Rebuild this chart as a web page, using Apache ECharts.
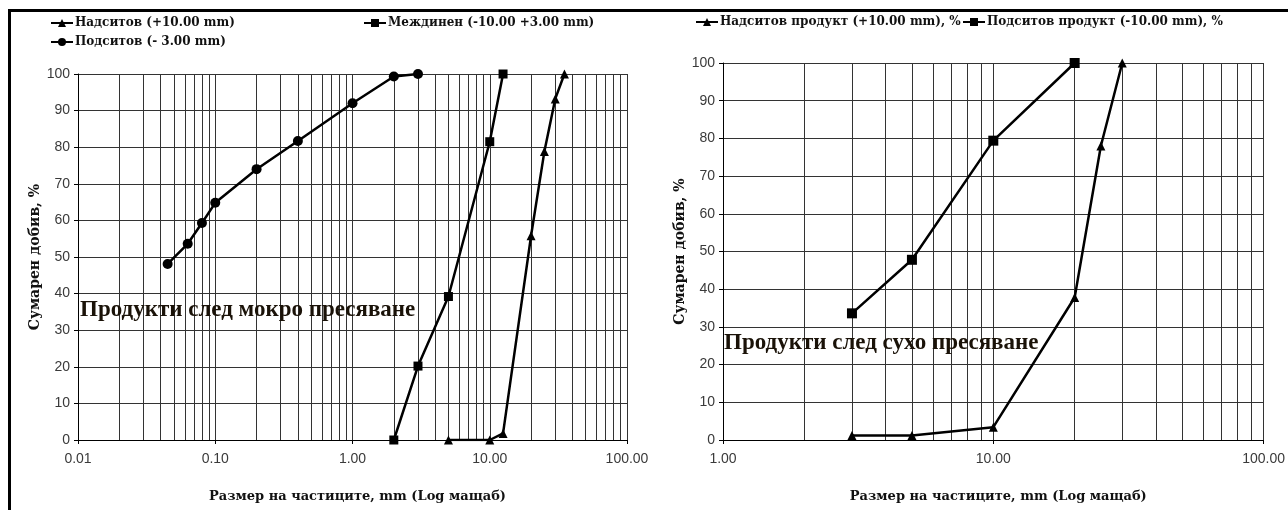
<!DOCTYPE html>
<html>
<head>
<meta charset="utf-8">
<script src="https://cdn.jsdelivr.net/npm/echarts@6/dist/echarts.min.js"></script>
<style>
  html, body { margin: 0; padding: 0; background: #fff; }
  #wrap { position: relative; width: 1288px; height: 510px; }
  #chart { width: 1288px; height: 510px; }
  #frame {
    position: absolute; left: 8px; top: 9px; right: 0; bottom: 0;
    border-left: 3px solid #000; border-top: 3px solid #000;
    pointer-events: none;
  }
</style>
</head>
<body>
<div id="wrap">
  <div id="chart"></div>
  <div id="frame"></div>
</div>
<script>
/* ---------- данни: мокро пресяване ---------- */
const wetOverSize = [5, 10, 12.5, 20, 25, 30, 35];
const wetOver = [0, 0, 1.8, 55.8, 78.8, 93.2, 100];
const wetMidSize = [2, 3, 5, 10, 12.5];
const wetMid = [0, 20.2, 39.2, 81.5, 100];
const wetUnderSize = [0.045, 0.063, 0.08, 0.1, 0.2, 0.4, 1, 2, 3];
const wetUnder = [48.1, 53.6, 59.3, 64.8, 74, 81.7, 92, 99.3, 100];

/* ---------- данни: сухо пресяване ---------- */
const dryOverSize = [3, 5, 10, 20, 25, 30];
const dryOver = [1.2, 1.2, 3.4, 37.8, 78, 100];
const dryUnderSize = [3, 5, 10, 20];
const dryUnder = [33.6, 47.8, 79.4, 100];

/* ---------- междинни линии на логаритмичната скала ---------- */
const wetMinor = [0.02, 0.03, 0.04, 0.05, 0.06, 0.07, 0.08, 0.09,
  0.2, 0.3, 0.4, 0.5, 0.6, 0.7, 0.8, 0.9,
  2, 3, 4, 5, 6, 7, 8, 9,
  20, 30, 40, 50, 60, 70, 80, 90];
const dryMinor = [2, 3, 4, 5, 6, 7, 8, 9, 20, 30, 40, 50, 60, 70, 80, 90];

const names = {
  wetOver: "Надситов (+10.00 mm)",
  wetMid: "Междинен (-10.00 +3.00 mm)",
  wetUnder: "Подситов (- 3.00 mm)",
  dryOver: "Надситов продукт (+10.00 mm), %",
  dryUnder: "Подситов продукт (-10.00 mm), %",
};

const serif = "DejaVu Serif";
const sans = "Liberation Sans";
const gridColor = "#333";

const zip = (xs, ys) => xs.map((x, i) => [x, ys[i]]);

function xAxis(gridIndex, min, max) {
  return {
    type: "log", logBase: 10, gridIndex, min, max,
    name: "Размер на частиците, mm (Log мащаб)",
    nameLocation: "middle", nameGap: 50,
    nameTextStyle: { fontFamily: serif, fontWeight: "bold", fontSize: 13, color: "#111", padding: [0, 0, 0, 10] },
    axisLine: { show: true, lineStyle: { color: "#000", width: 1 } },
    axisTick: { show: true, length: 4, lineStyle: { color: "#000" } },
    axisLabel: { fontFamily: sans, fontSize: 14, color: "#3a3a3a", margin: 12,
      formatter: (v) => Number(v).toFixed(2) },
    splitLine: { show: true, lineStyle: { color: gridColor, width: 1 } },
  };
}

function yAxis(gridIndex) {
  return {
    type: "value", gridIndex, min: 0, max: 100, interval: 10,
    name: "Сумарен добив, %",
    nameLocation: "middle", nameGap: 36,
    nameTextStyle: { fontFamily: serif, fontWeight: "bold", fontSize: 14, color: "#111" },
    axisLine: { show: true, lineStyle: { color: "#000", width: 1 } },
    axisTick: { show: true, length: 4, lineStyle: { color: "#000" } },
    axisLabel: { fontFamily: sans, fontSize: 14, color: "#3a3a3a", margin: 8 },
    splitLine: { show: true, lineStyle: { color: gridColor, width: 1 } },
  };
}

function lineSeries(name, idx, data, symbol, size) {
  return {
    name, type: "line", xAxisIndex: idx, yAxisIndex: idx, data,
    symbol, symbolSize: size, z: 5,
    lineStyle: { color: "#000", width: 2.5 },
    itemStyle: { color: "#000" },
  };
}

function minorSeries(idx, vals) {
  return {
    type: "line", xAxisIndex: idx, yAxisIndex: idx, data: [], z: 1, silent: true,
    markLine: {
      silent: true, symbol: "none", animation: false,
      label: { show: false },
      lineStyle: { color: gridColor, width: 1, type: "solid" },
      data: vals.map((v) => ({ xAxis: v })),
    },
  };
}

function legend(name, left, top) {
  return {
    data: [name], left, top, itemWidth: 22, itemHeight: 10, itemGap: 0,
    textStyle: { fontFamily: serif, fontWeight: "bold", fontSize: 12, color: "#111", padding: [0, 0, 0, -3] },
  };
}

function note(text, left, top) {
  return {
    type: "text", left, top, z: 10,
    style: {
      text, fontFamily: "Liberation Serif", fontWeight: "bold", fontSize: 23,
      fill: "#1a1208", shadowColor: "rgba(190,110,20,0.6)", shadowBlur: 2,
    },
  };
}

const chart = echarts.init(document.getElementById("chart"), null, { renderer: "canvas" });

chart.setOption({
  animation: false,
  backgroundColor: "#fff",
  grid: [
    { left: 78, top: 74, width: 549, height: 366 },
    { left: 723, top: 63, width: 541, height: 377 },
  ],
  xAxis: [xAxis(0, 0.01, 100), xAxis(1, 1, 100)],
  yAxis: [yAxis(0), yAxis(1)],
  legend: [
    legend(names.wetOver, 45, 12),
    legend(names.wetMid, 358, 12),
    legend(names.wetUnder, 45, 31),
    legend(names.dryOver, 690, 11),
    legend(names.dryUnder, 957, 11),
  ],
  graphic: [
    note("Продукти след мокро пресяване", 80, 299),
    note("Продукти след сухо пресяване", 724, 332),
  ],
  series: [
    minorSeries(0, wetMinor),
    minorSeries(1, dryMinor),
    lineSeries(names.wetOver, 0, zip(wetOverSize, wetOver), "triangle", 9),
    lineSeries(names.wetMid, 0, zip(wetMidSize, wetMid), "rect", 9),
    lineSeries(names.wetUnder, 0, zip(wetUnderSize, wetUnder), "circle", 10),
    lineSeries(names.dryOver, 1, zip(dryOverSize, dryOver), "triangle", 9),
    lineSeries(names.dryUnder, 1, zip(dryUnderSize, dryUnder), "rect", 10),
  ],
});

window.addEventListener("resize", () => chart.resize());
</script>
</body>
</html>
